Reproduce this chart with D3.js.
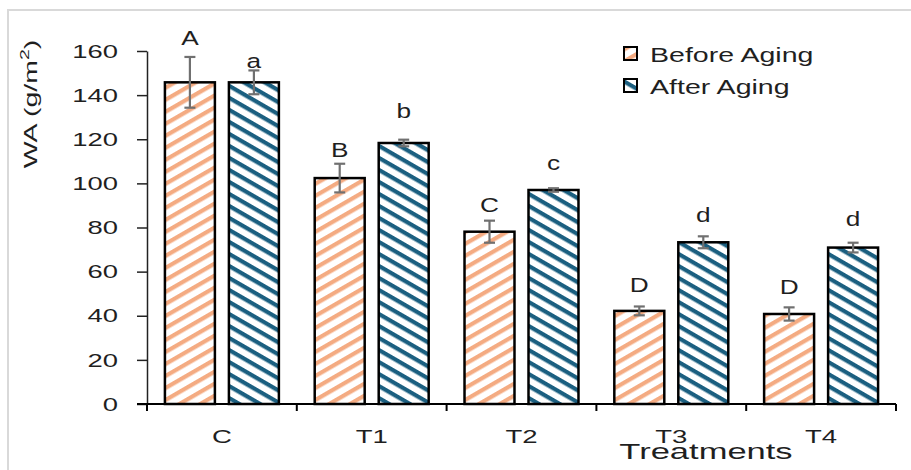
<!DOCTYPE html>
<html><head><meta charset="utf-8">
<script src="https://cdn.jsdelivr.net/npm/d3@7"></script>
<style>html,body{margin:0;padding:0;background:#fff;} svg{display:block;font-family:"Liberation Sans",Arial,sans-serif;}</style>
</head><body>
<svg id="chart" width="911" height="470"></svg>
<script>
const categories = ["C", "T1", "T2", "T3", "T4"];
const seriesNames = ["Before Aging", "After Aging"];
const beforeValues = [145.8, 102.4, 78.1, 42.2, 40.8];
const beforeErrors = [11.5, 6.5, 5.0, 2.0, 3.0];
const afterValues = [145.8, 118.3, 97.0, 73.3, 70.9];
const afterErrors = [5.4, 1.5, 0.8, 2.7, 2.2];
const beforeLetters = ["A", "B", "C", "D", "D"];
const afterLetters = ["a", "b", "c", "d", "d"];
const beforeLetterAt = [162.7, 112, 87, 50.8, 49.9];
const afterLetterAt = [152.3, 129.6, 106, 82.5, 80.7];
const yTicks = [0, 20, 40, 60, 80, 100, 120, 140, 160];

const svg = d3.select("#chart");
const colors = {"Before Aging": "#F4AB82", "After Aging": "#1B5F80"};
const ink = "#1f1f1f";

// frame
svg.append("rect").attr("x", 8).attr("y", 10).attr("width", 920).attr("height", 480)
  .attr("fill", "none").attr("stroke", "#d9d9d9").attr("stroke-width", 2);

const defs = svg.append("defs");
function hatch(id, color, angle) {
  const p = defs.append("pattern").attr("id", id).attr("patternUnits", "userSpaceOnUse")
    .attr("width", 10).attr("height", 10.4).attr("patternTransform", `rotate(${angle})`);
  p.append("rect").attr("width", 10).attr("height", 10.4).attr("fill", "#fff");
  p.append("rect").attr("y", 0).attr("width", 10).attr("height", 4.2).attr("fill", color);
}
hatch("hb", colors["Before Aging"], -30);
hatch("ha", colors["After Aging"], 30);
const fills = {"Before Aging": "url(#hb)", "After Aging": "url(#ha)"};

const mL = 147, mR = 896, mT = 51, mB = 404;
const y = d3.scaleLinear().domain([0, 160]).range([mB, mT]);
const x = d3.scaleBand().domain(categories).range([mL, mR]).padding(0);
const xs = d3.scaleBand().domain(seriesNames).range([0, x.bandwidth()])
  .paddingInner(0.219).paddingOuter(0.28);

const rows = categories.map((c, i) => ({
  cat: c,
  items: [
    {s: "Before Aging", v: beforeValues[i], e: beforeErrors[i], l: beforeLetters[i], la: beforeLetterAt[i]},
    {s: "After Aging", v: afterValues[i], e: afterErrors[i], l: afterLetters[i], la: afterLetterAt[i]}
  ]
}));

// y axis
const yAxis = svg.append("g").attr("transform", `translate(${mL},0)`)
  .call(d3.axisLeft(y).tickValues(yTicks).tickSize(10).tickSizeOuter(0));
yAxis.select(".domain").attr("stroke", "#222").attr("stroke-width", 1.5);
yAxis.selectAll(".tick line").attr("stroke", "#222").attr("stroke-width", 1.5);
yAxis.selectAll(".tick text").attr("font-size", 17.7).attr("fill", ink)
  .attr("font-family", "Liberation Sans, Arial, sans-serif")
  .attr("x", 0).attr("dy", "0.35em").attr("transform", "translate(-29,0) scale(1.55,1)");

// bars
const g = svg.append("g");
const cg = g.selectAll("g.cat").data(rows).join("g").attr("class", "cat")
  .attr("transform", d => `translate(${x(d.cat)},0)`);
cg.selectAll("rect.bar").data(d => d.items).join("rect").attr("class", "bar")
  .attr("x", d => xs(d.s)).attr("width", xs.bandwidth())
  .attr("y", d => y(d.v)).attr("height", d => y(0) - y(d.v))
  .attr("fill", d => fills[d.s]).attr("stroke", "#000").attr("stroke-width", 2.5);

// error bars
const eb = cg.selectAll("g.err").data(d => d.items).join("g").attr("class", "err")
  .attr("transform", d => `translate(${xs(d.s) + xs.bandwidth() / 2},0)`);
const ec = "#707070";
eb.append("line").attr("y1", d => y(d.v + d.e)).attr("y2", d => y(d.v - d.e))
  .attr("stroke", ec).attr("stroke-width", 2.2);
eb.append("line").attr("x1", -5.5).attr("x2", 5.5).attr("y1", d => y(d.v + d.e)).attr("y2", d => y(d.v + d.e))
  .attr("stroke", ec).attr("stroke-width", 2.2);
eb.append("line").attr("x1", -5.5).attr("x2", 5.5).attr("y1", d => y(d.v - d.e)).attr("y2", d => y(d.v - d.e))
  .attr("stroke", ec).attr("stroke-width", 2.2);
eb.append("text").attr("text-anchor", "middle")
  .attr("transform", d => `translate(0,${y(d.la)}) scale(1.28,1)`)
  .attr("font-size", 20.5).attr("fill", ink).text(d => d.l);

// x axis
const xAxisG = svg.append("g").attr("transform", `translate(0,${mB})`);
xAxisG.append("line").attr("x1", mL - 10).attr("x2", mR).attr("stroke", "#000").attr("stroke-width", 2);
const bounds = categories.map(c => x(c)).concat([mR]);
xAxisG.selectAll("line.t").data(bounds).join("line").attr("class", "t")
  .attr("x1", d => d).attr("x2", d => d).attr("y1", 0).attr("y2", 7)
  .attr("stroke", "#000").attr("stroke-width", 2);
xAxisG.selectAll("text").data(categories).join("text")
  .attr("transform", d => `translate(${x(d) + x.bandwidth() / 2},39) scale(1.45,1)`)
  .attr("text-anchor", "middle")
  .attr("font-size", 19).attr("fill", ink).text(d => d);

// axis titles
svg.append("text").attr("transform", "translate(706,459) scale(1.57,1)").attr("text-anchor", "middle")
  .attr("font-size", 22).attr("fill", ink).text("Treatments");
const yt = svg.append("text").attr("transform", "translate(37,104) rotate(-90) scale(1.5,1)")
  .attr("text-anchor", "middle").attr("font-size", 19).attr("fill", ink);
yt.append("tspan").text("WA (g/m");
yt.append("tspan").attr("dy", -8).attr("font-size", 13).text("2");
yt.append("tspan").attr("dy", 8).text(")");

// legend
const lg = svg.append("g").attr("transform", "translate(624,47)");
const li = lg.selectAll("g").data(seriesNames).join("g").attr("transform", (d, i) => `translate(0,${i * 32})`);
li.append("rect").attr("width", 13).attr("height", 13).attr("fill", d => fills[d])
  .attr("stroke", "#000").attr("stroke-width", 2);
li.append("text").attr("transform", "translate(26,15) scale(1.36,1)")
  .attr("font-size", 21).attr("fill", ink).text(d => d);
</script>
</body></html>
